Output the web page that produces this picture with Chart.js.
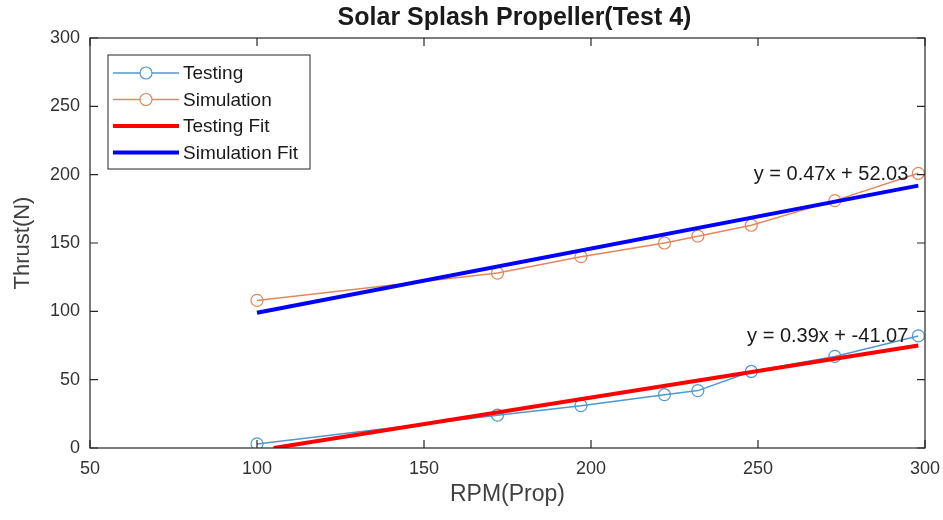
<!DOCTYPE html>
<html>
<head>
<meta charset="utf-8">
<script src="https://cdn.jsdelivr.net/npm/chart.js@4.4.0/dist/chart.umd.min.js"></script>
<style>
  html,body{margin:0;padding:0;background:#fff;}
  #wrap{width:943px;height:520px;}
</style>
</head>
<body>
<div id="wrap"><canvas id="c" width="943" height="520"></canvas></div>
<script>
// values
const rpm=[100,172,197,222,232,248,273,298];
const testing=[3,24,31,39,42,56,67,82];
const simulation=[108,128,140,150,155,163,181,201];
const testFitX=[105,298], testFitY=[0,75];
const simFitX=[100,298], simFitY=[99,192];
const xTicks=[50,100,150,200,250,300];
const yTicks=[0,50,100,150,200,250,300];
const testEq="y = 0.39x + -41.07";
const simEq="y = 0.47x + 52.03";
const chartTitle="Solar Splash Propeller(Test 4)";

const pts=(xs,ys)=>xs.map((x,i)=>({x:x,y:ys[i]}));
const FONT="'Liberation Sans', Arial, sans-serif";

// title over the axes, frame, inward ticks, legend box, fit equations
const matlabLook={
  id:"matlabLook",
  afterDatasetsDraw(chart){
    const {ctx,chartArea:a,scales:{x,y}}=chart;
    ctx.save();
    ctx.font="bold 25px "+FONT; ctx.fillStyle="#1a1a1a";
    ctx.textAlign="center"; ctx.textBaseline="middle";
    ctx.fillText(chartTitle,(a.left+a.right)/2+7,18);

    ctx.strokeStyle="#262626"; ctx.lineWidth=1.2;
    ctx.strokeRect(a.left,a.top,a.right-a.left,a.bottom-a.top);
    ctx.beginPath();
    xTicks.forEach(v=>{ const px=x.getPixelForValue(v);
      ctx.moveTo(px,a.bottom); ctx.lineTo(px,a.bottom-8);
      ctx.moveTo(px,a.top); ctx.lineTo(px,a.top+8); });
    yTicks.forEach(v=>{ const py=y.getPixelForValue(v);
      ctx.moveTo(a.left,py); ctx.lineTo(a.left+8,py);
      ctx.moveTo(a.right,py); ctx.lineTo(a.right-8,py); });
    ctx.stroke();

    // equations next to the last points
    ctx.font="20px "+FONT; ctx.fillStyle="#1a1a1a";
    ctx.textAlign="right"; ctx.textBaseline="middle";
    const last=rpm.length-1;
    ctx.fillText(simEq,x.getPixelForValue(rpm[last])-10,y.getPixelForValue(simulation[last])+1);
    ctx.fillText(testEq,x.getPixelForValue(rpm[last])-10,y.getPixelForValue(testing[last])+1);

    // legend
    const lx=108, ly=55, lw=202, lh=114;
    ctx.fillStyle="#fff"; ctx.fillRect(lx,ly,lw,lh);
    ctx.strokeStyle="#262626"; ctx.lineWidth=1; ctx.strokeRect(lx,ly,lw,lh);
    ctx.textAlign="left"; ctx.font="19px "+FONT;
    chart.data.datasets.forEach((ds,i)=>{
      const ry=ly+18+i*26.5;
      ctx.strokeStyle=ds.borderColor; ctx.lineWidth=ds.borderWidth;
      ctx.beginPath(); ctx.moveTo(lx+5,ry); ctx.lineTo(lx+71,ry); ctx.stroke();
      if(ds.pointRadius>0){
        ctx.lineWidth=1.2; ctx.beginPath(); ctx.arc(lx+38,ry,6,0,Math.PI*2);
        ctx.fillStyle="#fff"; ctx.fill(); ctx.stroke();
      }
      ctx.fillStyle="#1a1a1a"; ctx.fillText(ds.label,lx+75,ry+1);
    });
    ctx.restore();
  }
};

new Chart(document.getElementById("c"),{
  type:"line",
  data:{datasets:[
    {label:"Testing",data:pts(rpm,testing),borderColor:"#4d98d0",borderWidth:1.5,
     pointRadius:6,pointBorderColor:"#4d98d0",pointBackgroundColor:"rgba(0,0,0,0)",pointBorderWidth:1.2,order:2},
    {label:"Simulation",data:pts(rpm,simulation),borderColor:"#e3875c",borderWidth:1.5,
     pointRadius:6,pointBorderColor:"#e3875c",pointBackgroundColor:"rgba(0,0,0,0)",pointBorderWidth:1.2,order:2},
    {label:"Testing Fit",data:pts(testFitX,testFitY),borderColor:"#ff0000",borderWidth:4,pointRadius:0,order:1},
    {label:"Simulation Fit",data:pts(simFitX,simFitY),borderColor:"#0000ff",borderWidth:4,pointRadius:0,order:1}
  ]},
  options:{
    responsive:false,animation:false,
    layout:{padding:{left:0,right:18,top:38,bottom:0}},
    plugins:{legend:{display:false},tooltip:{enabled:false},title:{display:false}},
    scales:{
      x:{type:"linear",min:50,max:300,
        afterBuildTicks:s=>{s.ticks=xTicks.map(v=>({value:v}));},
        afterFit:s=>{s.height=72; s.paddingLeft=0; s.paddingRight=0;},
        grid:{display:false,drawTicks:false},border:{display:false},
        ticks:{color:"#333333",padding:10,font:{family:FONT,size:18}},
        title:{display:true,text:"RPM(Prop)",color:"#404040",font:{family:FONT,size:23},padding:{top:2,bottom:12}}},
      y:{type:"linear",min:0,max:300,
        afterBuildTicks:s=>{s.ticks=yTicks.map(v=>({value:v}));},
        afterFit:s=>{s.width=90; s.paddingTop=0; s.paddingBottom=0;},
        grid:{display:false,drawTicks:false},border:{display:false},
        ticks:{color:"#333333",padding:10,font:{family:FONT,size:18}},
        title:{display:true,text:"Thrust(N)",color:"#404040",font:{family:FONT,size:22},padding:{top:10,bottom:4}}}
    }
  },
  plugins:[matlabLook]
});
</script>
</body>
</html>
